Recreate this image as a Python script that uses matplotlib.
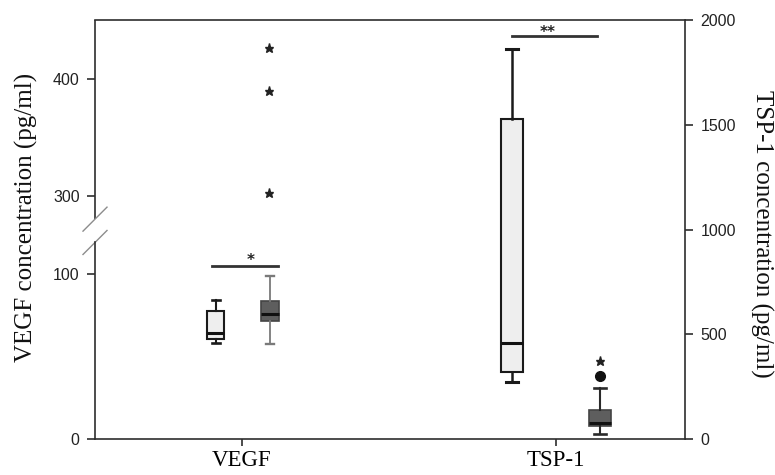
import numpy as np
import matplotlib.pyplot as plt

groups = ['VEGF', 'TSP-1']

# VEGF concentration (pg/ml), left (broken) axis
vegf_light = dict(whislo=58.4, q1=60.8, med=64.0, q3=77.6, whishi=84.0, fliers=[])
vegf_dark = dict(whislo=57.8, q1=71.5, med=75.6, q3=83.6, whishi=98.6, fliers=[])
vegf_dark_extremes = [302, 389, 426]

# TSP-1 concentration (pg/ml), right axis
tsp_light = dict(whislo=274, q1=322, med=456, q3=1528, whishi=1860, fliers=[])
tsp_dark = dict(whislo=22, q1=62, med=78, q3=137, whishi=243, fliers=[301])
tsp_dark_extremes = [373]

vegf_sig = '*'
tsp_sig = '**'

# broken left axis: value -> height in px above the bottom spine
brk_lo, brk_hi = 119, 280
bp_v = [-1000, 0, brk_lo, brk_hi, 450, 2000]
bp_h = [-1650, 0, 196.3, 219.6, 418.5, 2232]


def fwd(v):
    return np.interp(v, bp_v, bp_h)


def inv(h):
    return np.interp(h, bp_h, bp_v)


sans = 'Liberation Sans'
serif = 'Liberation Serif'
spine_col = '#2e2e2e'

fig = plt.figure(figsize=(7.75, 4.75), dpi=100)
ax = fig.add_axes([95 / 775, 1 - 439 / 475, 590 / 775, 419 / 475])
ax.set_yscale('function', functions=(fwd, inv))
ax.set_ylim(0, 450)
ax.set_xlim(0.532, 2.411)
ax2 = ax.twinx()
ax2.set_ylim(0, 2000)

light = dict(facecolor='#eeeeee', edgecolor='#1a1a1a', linewidth=1.5)
dark = dict(facecolor='#5e5e5e', edgecolor='#444444', linewidth=1.2)


def draw_box(a, st, pos, w, cw, props, wcol, wlw):
    a.bxp([st], positions=[pos], widths=[w], capwidths=[cw], patch_artist=True,
          manage_ticks=False, boxprops=props,
          medianprops=dict(color='#111111', linewidth=2.2),
          whiskerprops=dict(color=wcol, linewidth=wlw),
          capprops=dict(color=wcol, linewidth=wlw + 0.4),
          flierprops=dict(marker='o', markersize=7, markerfacecolor='#111111',
                          markeredgecolor='#111111'))


draw_box(ax, vegf_light, 0.917, 0.054, 0.026, light, '#1a1a1a', 1.5)
draw_box(ax, vegf_dark, 1.089, 0.057, 0.026, dark, '#7a7a7a', 1.3)
ax.plot([1.086] * len(vegf_dark_extremes), vegf_dark_extremes, ls='none', marker='*',
        ms=6.5, color='#222222')

draw_box(ax2, tsp_light, 1.86, 0.07, 0.038, light, '#1a1a1a', 1.8)
draw_box(ax2, tsp_dark, 2.14, 0.07, 0.036, dark, '#2a2a2a', 1.5)
ax2.plot([2.14] * len(tsp_dark_extremes), tsp_dark_extremes, ls='none', marker='*',
         ms=6.5, color='#222222')

# significance bars
ax.plot([0.904, 1.115], [104.7, 104.7], color='#333333', lw=2)
ax.text(1.028, 105.5, vegf_sig, ha='center', va='baseline', fontsize=11, fontweight='bold',
        color='#222222')
ax2.plot([1.86, 2.13], [1923, 1923], color='#333333', lw=2)
ax2.text(1.9735, 1918, tsp_sig, ha='center', va='baseline', fontsize=11, fontweight='bold',
         color='#222222')

# spines
for s in ['top', 'bottom', 'left']:
    ax.spines[s].set_color(spine_col)
    ax.spines[s].set_linewidth(1.2)
ax.spines['right'].set_visible(False)
for s in ['top', 'bottom', 'left']:
    ax2.spines[s].set_visible(False)
ax2.spines['right'].set_color(spine_col)
ax2.spines['right'].set_linewidth(1.2)

ax.spines['left'].set_bounds(0, brk_lo)
ax.plot([0, 0], [brk_hi, 450], transform=ax.get_yaxis_transform(), color=spine_col,
        lw=1.2, clip_on=False, solid_capstyle='butt')
top_h = fwd(450)
for v in (brk_lo, brk_hi):
    yc = fwd(v) / top_h
    ax.plot([-12 / 590, 12 / 590], [yc - 12 / 419, yc + 12 / 419], transform=ax.transAxes,
            color='#8c8c8c', lw=1.0, clip_on=False)

ax.set_yticks([0, 100, 300, 400])
ax.set_yticks([], minor=True)
ax.set_yticklabels(['0', '100', '300', '400'], fontfamily=sans, fontsize=11.5, color='#222222')
ax2.set_yticks([0, 500, 1000, 1500, 2000])
ax2.set_yticklabels(['0', '500', '1000', '1500', '2000'], fontfamily=sans, fontsize=11.5,
                    color='#222222')
ax.set_xticks([1, 2])
ax.set_xticklabels(groups, fontfamily=serif, fontsize=16.5)
ax.tick_params(axis='y', direction='out', length=6, width=1.2, color=spine_col, pad=5)
ax.tick_params(axis='x', direction='out', length=5, width=1.2, color=spine_col, pad=3)
ax2.tick_params(axis='y', direction='out', length=6, width=1.2, color=spine_col, pad=5)

ax.set_ylabel('VEGF concentration (pg/ml)', fontfamily=serif, fontsize=18, ha='center',
              va='center', color='#111111')
ax.yaxis.set_label_coords(-0.117, 0.529)
ax2.set_ylabel('TSP-1 concentration (pg/ml)', fontfamily=serif, fontsize=18, ha='center',
               va='center', rotation=270, color='#111111')
ax2.yaxis.set_label_coords(1.1305, 0.49)

fig.savefig('out.png', dpi=100)
